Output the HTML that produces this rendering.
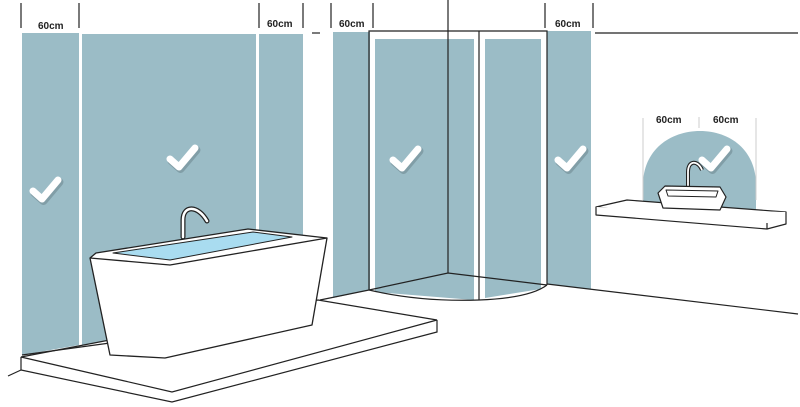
<!DOCTYPE html>
<html><head><meta charset="utf-8"><style>
html,body{margin:0;padding:0;background:#fff;}
svg{display:block;}
text{font-family:"Liberation Sans",sans-serif;font-weight:bold;font-size:10px;fill:#222;}
</style></head><body>
<svg width="800" height="407" viewBox="0 0 800 407" xmlns="http://www.w3.org/2000/svg">
<defs>
<g id="chk"><path d="M-12,2 L-3,10 L13,-9" fill="none" stroke="#6f8a93" stroke-width="8" stroke-linecap="round" stroke-linejoin="round" transform="translate(1.5,2)" opacity="0.6"/><path d="M-12,2 L-3,10 L13,-9" fill="none" stroke="#fff" stroke-width="7" stroke-linecap="round" stroke-linejoin="round"/></g>
</defs>
<g fill="#9bbcc6">
<polygon points="22,33 79,33 79,345 22,355"/>
<polygon points="82,34 256,34 256,315 82,345"/>
<rect x="259" y="34" width="44" height="262"/>
<polygon points="333,32 370,32 370,290 333,298"/>
<polygon points="375,39 474,39 474,300 375,292"/>
<polygon points="485,39 541,39 541,289 485,298"/>
<polygon points="547,31 591,31 591,289 547,284"/>
<path d="M643,205 L643,185 C643,150 670,131 700,131 C730,131 756,150 756,185 L756,210 Z"/>
</g>
<g stroke="#222" stroke-width="1.2" fill="none">
<!-- ticks -->
<line x1="21" y1="3" x2="21" y2="28"/><line x1="79" y1="3" x2="79" y2="28"/>
<line x1="259" y1="3" x2="259" y2="28"/><line x1="303" y1="3" x2="303" y2="28"/>
<line x1="331" y1="3" x2="331" y2="28"/><line x1="373" y1="3" x2="373" y2="28"/>
<line x1="545" y1="3" x2="545" y2="28"/><line x1="593" y1="3" x2="593" y2="28"/>
<line x1="312" y1="33" x2="320" y2="33"/>
<line x1="595" y1="33" x2="798" y2="33"/>
<!-- shower -->
<line x1="448" y1="0" x2="448" y2="273"/>
<polyline points="369,290 369,31 547,31 547,285"/>
<line x1="479" y1="31" x2="479" y2="300"/>
<polyline points="369,290 448,273 547,285"/>
<path d="M369,290 Q420,302 479,300 Q530,298 547,285"/>
<line x1="547" y1="284" x2="798" y2="314"/>
<line x1="320" y1="300" x2="369" y2="290"/>
<!-- platform -->
<polygon points="21,357 318,300 437,320 172,392" fill="#fff"/>
<polyline points="21,357 21,370 172,402 437,332 437,320"/>
<line x1="172" y1="392" x2="172" y2="392"/>
<line x1="8" y1="376" x2="21" y2="370"/>
<line x1="22" y1="355" x2="110" y2="343"/>
</g>
<!-- bath -->
<g stroke="#222" stroke-width="1.3" stroke-linejoin="round">
<polygon points="90,258 110,355 165,358 312,325 327,238 248,229 96,253" fill="#fff"/>
<polyline points="90,258 170,265 327,238" fill="none"/>
<polygon points="113,253 253,232 292,237 170,260" fill="#a9dcf0" stroke-width="1"/>
</g>
<path d="M183,237 L183,220 C183,205 198,205 207,221" fill="none" stroke="#222" stroke-width="5" stroke-linecap="round"/>
<path d="M183,237 L183,220 C183,205 198,205 207,221" fill="none" stroke="#fff" stroke-width="2.5" stroke-linecap="round"/>
<!-- sink area -->
<g stroke="#ccc" stroke-width="1">
<line x1="643" y1="118" x2="643" y2="200"/><line x1="699" y1="117" x2="699" y2="128"/><line x1="756" y1="118" x2="756" y2="200"/>
</g>
<g stroke="#222" stroke-width="1.2" stroke-linejoin="round">
<polygon points="596,207 627,200 786,212 767,223" fill="#fff"/>
<polyline points="596,207 596,215 767,229 786,224 786,212" fill="#fff"/>
<line x1="767" y1="223" x2="767" y2="229"/>
<path d="M688,186 L688,172 C688,160 698,160 702,170" fill="none" stroke-width="4"/>
<path d="M688,186 L688,172 C688,160 698,160 702,170" fill="none" stroke="#fff" stroke-width="1.8"/>
<polygon points="658,193 665,186 720,187 726,197 720,210 663,208" fill="#fff"/>
<polygon points="666,190 718,191 716,197 668,196" fill="#fff" stroke-width="1"/>
</g>
<use href="#chk" x="45" y="189"/>
<use href="#chk" x="182" y="157"/>
<use href="#chk" x="405" y="158"/>
<use href="#chk" x="570" y="158"/>
<use href="#chk" x="714" y="158"/>
<text x="38" y="29">60cm</text>
<text x="267" y="27">60cm</text>
<text x="339" y="27">60cm</text>
<text x="555" y="27">60cm</text>
<text x="656" y="123">60cm</text>
<text x="713" y="123">60cm</text>
</svg>
</body></html>
